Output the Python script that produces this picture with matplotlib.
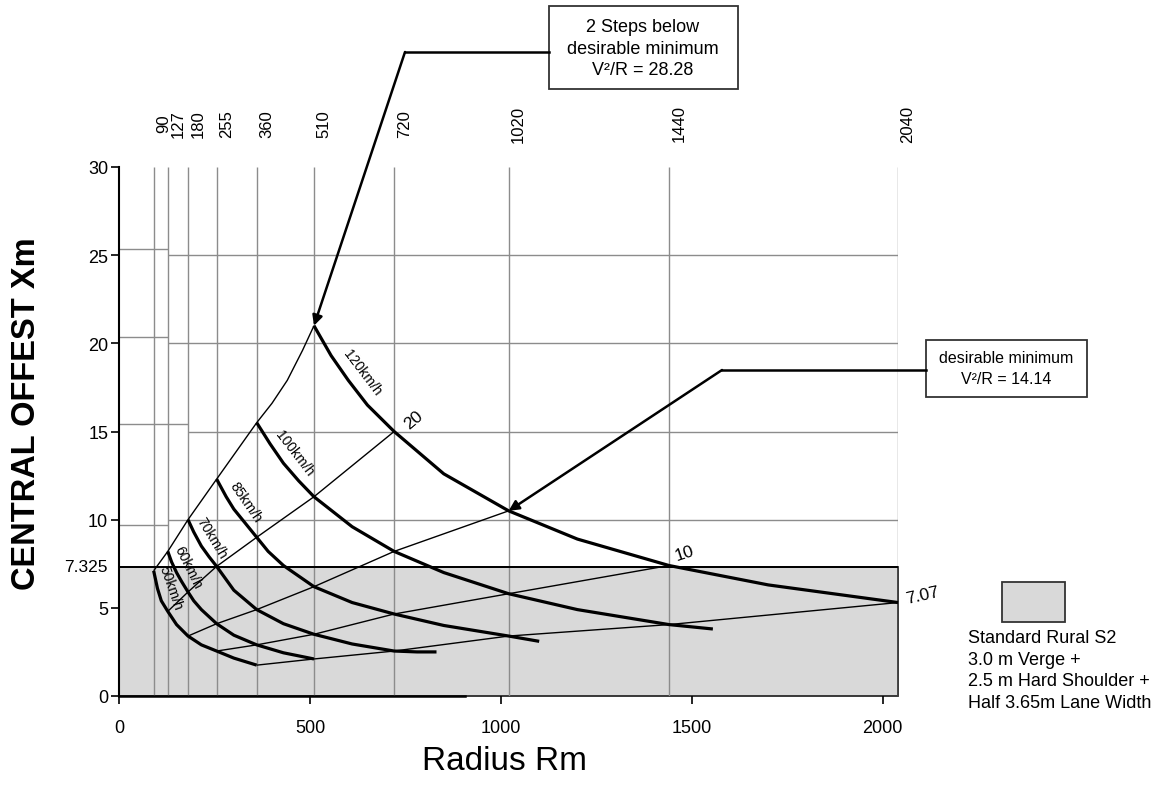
import numpy as np
import matplotlib
matplotlib.use('Agg')
import matplotlib.pyplot as plt
from matplotlib.patches import Rectangle
from matplotlib.lines import Line2D
import matplotlib.transforms as mtransforms

plt.rcParams['font.family'] = ['Liberation Sans', 'DejaVu Sans']

# ---------------- data ----------------
radii = [90, 127, 180, 255, 360, 510, 720, 1020, 1440, 2040]
x_ticks = [0, 500, 1000, 1500, 2000]
y_ticks = [0, 5, 10, 15, 20, 25, 30]
s2_offset = 7.325

speed_labels = ['50km/h', '60km/h', '70km/h', '85km/h', '100km/h', '120km/h']
r_50 = [90, 95, 100, 110, 127, 150, 180, 215, 255, 300, 360]
x_50 = [7.1, 6.6, 6.1, 5.4, 4.8, 4.05, 3.4, 2.9, 2.55, 2.15, 1.75]
r_60 = [127, 137, 150, 163, 180, 195, 215, 235, 255, 300, 360, 430, 510]
x_60 = [8.2, 7.6, 7.0, 6.5, 5.9, 5.4, 4.9, 4.5, 4.1, 3.45, 2.9, 2.45, 2.1]
r_70 = [180, 195, 215, 235, 255, 280, 300, 330, 360, 430, 510, 610, 720, 780, 831]
x_70 = [10.0, 9.3, 8.5, 7.9, 7.35, 6.6, 6.0, 5.45, 4.9, 4.1, 3.5, 2.95, 2.55, 2.5, 2.5]
r_85 = [255, 280, 300, 330, 360, 390, 430, 510, 610, 720, 850, 1020, 1100]
x_85 = [12.3, 11.3, 10.6, 9.8, 9.0, 8.2, 7.4, 6.2, 5.3, 4.65, 4.0, 3.4, 3.1]
r_100 = [360, 395, 430, 470, 510, 610, 720, 850, 1020, 1200, 1440, 1555]
x_100 = [15.5, 14.3, 13.2, 12.2, 11.3, 9.6, 8.2, 7.0, 5.8, 4.9, 4.05, 3.8]
r_120 = [510, 555, 600, 650, 720, 850, 1020, 1200, 1440, 1700, 2040]
x_120 = [21.0, 19.3, 17.9, 16.5, 15.0, 12.6, 10.5, 8.9, 7.4, 6.3, 5.3]

# constant V^2/R lines
r_2828 = [90, 127, 180, 255, 360, 400, 440, 480, 510]
x_2828 = [7.1, 8.2, 10.0, 12.3, 15.5, 16.6, 17.9, 19.6, 21.0]
r_20 = [127, 180, 255, 360, 510, 720]
x_20 = [4.8, 5.9, 7.35, 9.0, 11.3, 15.0]
r_1414 = [180, 255, 360, 510, 720, 1020]
x_1414 = [3.4, 4.1, 4.9, 6.2, 8.2, 10.5]
r_10 = [255, 360, 510, 720, 1020, 1440]
x_10 = [2.55, 2.9, 3.5, 4.65, 5.8, 7.4]
r_707 = [360, 510, 720, 1020, 1440, 2040]
x_707 = [1.75, 2.1, 2.55, 3.4, 4.05, 5.3]

# horizontal grid lines (main part and short left stubs as drawn)
hgrid_y = [10, 15, 20, 25]
hgrid_start = [127, 180, 127, 127]
stub_y = [9.7, 15.4, 20.35, 25.35]
stub_end = [127, 180, 127, 127]

legend_lines = ['Standard Rural S2', '3.0 m Verge +', '2.5 m Hard Shoulder +',
                'Half 3.65m Lane Width']

# ---------------- figure ----------------
W, H = 1166, 803
fig = plt.figure(figsize=(W / 100, H / 100), dpi=100)
ax = fig.add_axes([119.3 / W, (H - 697) / H, (898 - 119.3) / W, (697 - 168) / H])
ax.set_xlim(0, 2040)
ax.set_ylim(0, 30)

def fp(x, y):
    return (x / W, 1 - y / H)

grid_c = '#8c8c8c'
# shaded S2 region
ax.add_patch(Rectangle((0, 0), radii[-1], s2_offset, facecolor='#d9d9d9',
                       edgecolor='#2a2a2a', lw=1.3, zorder=0.5, clip_on=False))
ax.vlines(radii, 0, 30, colors=grid_c, lw=1.0, zorder=1)
ax.hlines(hgrid_y, hgrid_start, radii[-1], colors=grid_c, lw=1.0, zorder=1)
ax.hlines(stub_y, 0, stub_end, colors=grid_c, lw=1.0, zorder=1)
ax.plot([0, radii[-1]], [s2_offset, s2_offset], color='black', lw=1.4, zorder=1.5)

thin = dict(color='black', lw=1.0, zorder=3, solid_capstyle='butt',
            solid_joinstyle='round')
for rr, xx in [(r_2828, x_2828), (r_20, x_20), (r_1414, x_1414),
               (r_10, x_10), (r_707, x_707)]:
    ax.plot(rr, xx, **thin)

curves = [(r_50, x_50), (r_60, x_60), (r_70, x_70), (r_85, x_85),
          (r_100, x_100), (r_120, x_120)]
for rr, xx in curves:
    ax.plot(rr, xx, color='black', lw=2.3, zorder=4, solid_capstyle='butt',
            solid_joinstyle='round', clip_on=False)

# axes styling
for s in ['top', 'right']:
    ax.spines[s].set_visible(False)
ax.spines['left'].set_linewidth(1.5)
ax.spines['bottom'].set_linewidth(1.8)
ax.spines['bottom'].set_bounds(0, 905)
ax.set_xticks(x_ticks)
ax.set_yticks(y_ticks)
ax.tick_params(axis='both', direction='out', length=5.5, width=1.2, labelsize=13)
ax.tick_params(axis='x', pad=11)
ax.tick_params(axis='y', pad=2.5)

ytr = mtransforms.blended_transform_factory(ax.transAxes, ax.transData) + \
    mtransforms.ScaledTranslation(-12 / 100, 0, fig.dpi_scale_trans)
ax.text(0, s2_offset, '7.325', transform=ytr, ha='right', va='center', fontsize=12.5)

# top radius labels
top_tr = mtransforms.blended_transform_factory(ax.transData, ax.transAxes) + \
    mtransforms.ScaledTranslation(10 / 100, 44 / 100, fig.dpi_scale_trans)
for r in radii:
    ax.text(r, 1, str(r), transform=top_tr, rotation=90, ha='center',
            va='center', fontsize=12)

# speed labels along curves
fig.canvas.draw()
inv = fig.transFigure.inverted()
for (rr, xx), lab in zip(curves, speed_labels):
    nxt = radii[radii.index(rr[0]) + 1]
    i1 = rr.index(nxt)
    p0 = ax.transData.transform((rr[0], xx[0]))
    p1 = ax.transData.transform((rr[i1], xx[i1]))
    d = p1 - p0
    ang = np.degrees(np.arctan2(d[1], d[0]))
    n = np.array([-d[1], d[0]]) / np.hypot(d[0], d[1])
    pos = (p0 + p1) / 2 + n * 11
    fx, fy = inv.transform(pos)
    fig.text(fx, fy, lab, rotation=ang, ha='center', va='center',
             rotation_mode='anchor', fontsize=10)

# ratio labels
ax.annotate('20', xy=(r_20[-1], x_20[-1]), xytext=(19, 12), textcoords='offset pixels',
            rotation=40, ha='center', va='center', fontsize=12.5)
ax.annotate('10', xy=(r_10[-1], x_10[-1]), xytext=(15, 13), textcoords='offset pixels',
            rotation=18, ha='center', va='center', fontsize=12.5)
ax.annotate('7.07', xy=(r_707[-1], x_707[-1]), xytext=(25, 8), textcoords='offset pixels',
            rotation=13, ha='center', va='center', fontsize=12.5, annotation_clip=False)

# callout boxes
def box(x0, y0, x1, y1, **kw):
    fig.add_artist(Rectangle(fp(x0, y1), (x1 - x0) / W, (y1 - y0) / H,
                             transform=fig.transFigure, **kw))

box(549, 7, 738, 90, fill=False, ec='#333333', lw=1.3)
fig.text(*fp(643, 49), '2 Steps below\ndesirable minimum\nV²/R = 28.28',
         ha='center', va='center', fontsize=13, linespacing=1.37)
fig.add_artist(Line2D([405 / W, 549 / W], [1 - 53 / H, 1 - 53 / H],
                      transform=fig.transFigure, color='black', lw=1.8))
ax.annotate('', xy=(r_120[0], x_120[0]), xycoords='data', xytext=fp(405, 53),
            textcoords='figure fraction', annotation_clip=False,
            arrowprops=dict(arrowstyle='-|>', color='black', lw=1.8,
                            mutation_scale=15, shrinkA=0, shrinkB=0))

box(926, 341, 1087, 398, fill=False, ec='#333333', lw=1.3)
fig.text(*fp(1006, 369), 'desirable minimum\nV²/R = 14.14',
         ha='center', va='center', fontsize=11.5, linespacing=1.5)
fig.add_artist(Line2D([722 / W, 926 / W], [1 - 371 / H, 1 - 371 / H],
                      transform=fig.transFigure, color='black', lw=1.8))
ax.annotate('', xy=(r_1414[-1], x_1414[-1]), xycoords='data', xytext=fp(722, 371),
            textcoords='figure fraction', annotation_clip=False,
            arrowprops=dict(arrowstyle='-|>', color='black', lw=1.8,
                            mutation_scale=15, shrinkA=0, shrinkB=0))

# legend
box(1002, 583, 1065, 623, facecolor='#d9d9d9', ec='#333333', lw=1.3)
fig.text(*fp(968, 630), '\n'.join(legend_lines), ha='left', va='top',
         fontsize=13, linespacing=1.35)

# axis titles
fig.text(*fp(27, 414), 'CENTRAL OFFEST Xm', rotation=90, fontsize=23.5,
         fontweight='bold', ha='center', va='center')
fig.text(*fp(505, 762), 'Radius Rm', fontsize=24, ha='center', va='center')

fig.savefig('out.png', dpi=100)
